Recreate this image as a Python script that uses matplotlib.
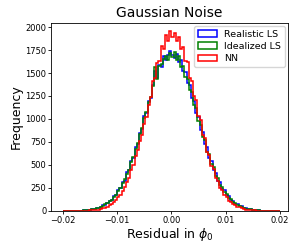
"""Residual histograms for three phase estimators under Gaussian noise."""
import numpy as np
import matplotlib
matplotlib.use("Agg")
import matplotlib.pyplot as plt
import matplotlib.patches as mpatches

# 100 equal bins from -0.02 to 0.02 (counts)
bin_edges = np.linspace(-0.02, 0.02, 101)

realistic_ls = [
    0, 0, 1, 1, 1, 2, 3, 3, 4, 6,
    7, 11, 12, 18, 21, 29, 34, 46, 60, 64,
    82, 110, 118, 160, 172, 225, 244, 310, 330, 418,
    445, 540, 580, 690, 730, 850, 890, 1030, 1060, 1200,
    1230, 1370, 1520, 1450, 1590, 1560, 1690, 1640, 1700, 1740,
    1700, 1660, 1710, 1620, 1640, 1520, 1510, 1390, 1365, 1230,
    1200, 1060, 1025, 885, 855, 725, 690, 575, 545, 445,
    415, 330, 310, 242, 225, 170, 158, 116, 110, 80,
    72, 52, 48, 33, 30, 21, 18, 12, 10, 7,
    6, 4, 3, 2, 2, 1, 1, 1, 0, 0,
]
idealized_ls = [
    0, 1, 0, 1, 2, 2, 2, 4, 4, 7,
    8, 9, 14, 16, 23, 27, 36, 43, 57, 70,
    82, 108, 122, 152, 178, 215, 250, 300, 342, 405,
    450, 532, 585, 678, 740, 840, 902, 1012, 1075, 1185,
    1240, 1355, 1560, 1430, 1575, 1600, 1650, 1680, 1640, 1720,
    1670, 1730, 1640, 1680, 1570, 1580, 1460, 1440, 1310, 1290,
    1150, 1115, 975, 935, 805, 770, 645, 615, 505, 475,
    385, 360, 285, 262, 205, 188, 144, 132, 98, 88,
    64, 58, 42, 37, 26, 23, 16, 13, 10, 8,
    6, 4, 3, 2, 1, 2, 1, 0, 1, 0,
]
nn = [
    0, 0, 1, 0, 1, 1, 1, 2, 2, 3,
    3, 4, 6, 7, 9, 13, 15, 22, 27, 37,
    46, 62, 73, 97, 115, 150, 175, 220, 255, 318,
    362, 440, 498, 592, 660, 760, 830, 940, 1020, 1150,
    1240, 1410, 1450, 1610, 1630, 1790, 1760, 1910, 1850, 1960,
    1890, 1940, 1850, 1890, 1760, 1780, 1630, 1620, 1450, 1410,
    1245, 1210, 1030, 990, 830, 790, 645, 610, 490, 455,
    355, 325, 250, 228, 168, 154, 110, 100, 70, 64,
    45, 38, 27, 22, 15, 13, 9, 7, 5, 4,
    3, 3, 2, 2, 1, 1, 1, 1, 0, 0,
]

series = [
    ("Realistic LS", realistic_ls, "blue"),
    ("Idealized LS", idealized_ls, "green"),
    ("NN", nn, "red"),
]

fig = plt.figure(figsize=(2.99, 2.49), dpi=100)
ax = fig.add_axes([0.171, 0.153, 0.792, 0.755])

handles = []
for label, counts, color in series:
    ax.stairs(counts, bin_edges, color=color, linewidth=1.1)
    handles.append(mpatches.Patch(facecolor="none", edgecolor=color,
                                  linewidth=1.1, label=label))

ax.set_xlim(-0.0222, 0.0215)
ax.set_ylim(0, 2045)
ax.set_xticks([-0.02, -0.01, 0.0, 0.01, 0.02])
ax.set_yticks(range(0, 2001, 250))
ax.tick_params(labelsize=6, length=2, width=0.6, pad=1.5)
for sp in ax.spines.values():
    sp.set_linewidth(0.6)

ax.set_title("Gaussian Noise", fontsize=10, pad=4)
ax.set_xlabel(r"Residual in $\phi_0$", fontsize=9, labelpad=1)
ax.set_ylabel("Frequency", fontsize=9, labelpad=2)
ax.legend(handles=handles, loc="upper right", fontsize=6.8,
          handlelength=2.0, borderaxespad=0.3, labelspacing=0.35)

fig.savefig("out.png", dpi=100)
